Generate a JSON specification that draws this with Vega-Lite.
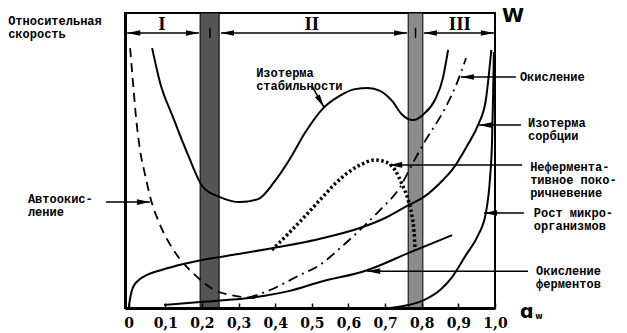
{
  "$schema": "https://vega.github.io/schema/vega-lite/v6.json",
  "width": 370,
  "height": 295,
  "autosize": {"type": "none"},
  "padding": {"left": 125, "top": 13, "right": 132, "bottom": 25},
  "background": "white",
  "config": {"view": {"stroke": "black", "strokeWidth": 2}},
  "datasets": {
    "bands": [
      {"band": 1, "x": 0.195, "x2": 0.247, "y": 0, "y2": 100},
      {"band": 2, "x": 0.763, "x2": 0.803, "y": 0, "y2": 100}
    ],
    "curves": [
      {"series": "Изотерма стабильности", "x": 0.064, "y": 88.1},
      {"series": "Изотерма стабильности", "x": 0.086, "y": 76.3},
      {"series": "Изотерма стабильности", "x": 0.121, "y": 64.7},
      {"series": "Изотерма стабильности", "x": 0.162, "y": 51.9},
      {"series": "Изотерма стабильности", "x": 0.203, "y": 41.0},
      {"series": "Изотерма стабильности", "x": 0.249, "y": 37.6},
      {"series": "Изотерма стабильности", "x": 0.304, "y": 35.9},
      {"series": "Изотерма стабильности", "x": 0.353, "y": 36.9},
      {"series": "Изотерма стабильности", "x": 0.399, "y": 43.0},
      {"series": "Изотерма стабильности", "x": 0.440, "y": 50.5},
      {"series": "Изотерма стабильности", "x": 0.481, "y": 59.3},
      {"series": "Изотерма стабильности", "x": 0.530, "y": 67.6},
      {"series": "Изотерма стабильности", "x": 0.577, "y": 72.0},
      {"series": "Изотерма стабильности", "x": 0.618, "y": 74.2},
      {"series": "Изотерма стабильности", "x": 0.653, "y": 74.6},
      {"series": "Изотерма стабильности", "x": 0.686, "y": 73.6},
      {"series": "Изотерма стабильности", "x": 0.719, "y": 70.2},
      {"series": "Изотерма стабильности", "x": 0.746, "y": 65.6},
      {"series": "Изотерма стабильности", "x": 0.776, "y": 63.7},
      {"series": "Изотерма стабильности", "x": 0.806, "y": 65.8},
      {"series": "Изотерма стабильности", "x": 0.836, "y": 70.5},
      {"series": "Изотерма стабильности", "x": 0.858, "y": 78.0},
      {"series": "Изотерма стабильности", "x": 0.872, "y": 87.5},
      {"series": "Автоокисление", "x": 0.004, "y": 88.1},
      {"series": "Автоокисление", "x": 0.012, "y": 76.3},
      {"series": "Автоокисление", "x": 0.020, "y": 64.7},
      {"series": "Автоокисление", "x": 0.031, "y": 53.6},
      {"series": "Автоокисление", "x": 0.045, "y": 45.1},
      {"series": "Автоокисление", "x": 0.061, "y": 36.6},
      {"series": "Автоокисление", "x": 0.086, "y": 28.1},
      {"series": "Автоокисление", "x": 0.126, "y": 19.0},
      {"series": "Автоокисление", "x": 0.181, "y": 11.2},
      {"series": "Автоокисление", "x": 0.230, "y": 6.4},
      {"series": "Автоокисление", "x": 0.290, "y": 4.1},
      {"series": "Автоокисление", "x": 0.345, "y": 3.4},
      {"series": "Изотерма сорбции", "x": 0.0, "y": 0.0},
      {"series": "Изотерма сорбции", "x": 0.005, "y": 4.0},
      {"series": "Изотерма сорбции", "x": 0.012, "y": 7.1},
      {"series": "Изотерма сорбции", "x": 0.031, "y": 9.8},
      {"series": "Изотерма сорбции", "x": 0.05, "y": 11.2},
      {"series": "Изотерма сорбции", "x": 0.09, "y": 12.9},
      {"series": "Изотерма сорбции", "x": 0.15, "y": 14.9},
      {"series": "Изотерма сорбции", "x": 0.214, "y": 16.6},
      {"series": "Изотерма сорбции", "x": 0.30, "y": 18.3},
      {"series": "Изотерма сорбции", "x": 0.38, "y": 20.0},
      {"series": "Изотерма сорбции", "x": 0.52, "y": 23.4},
      {"series": "Изотерма сорбции", "x": 0.631, "y": 27.1},
      {"series": "Изотерма сорбции", "x": 0.70, "y": 30.5},
      {"series": "Изотерма сорбции", "x": 0.76, "y": 34.6},
      {"series": "Изотерма сорбции", "x": 0.81, "y": 38.0},
      {"series": "Изотерма сорбции", "x": 0.858, "y": 43.4},
      {"series": "Изотерма сорбции", "x": 0.883, "y": 46.8},
      {"series": "Изотерма сорбции", "x": 0.924, "y": 55.0},
      {"series": "Изотерма сорбции", "x": 0.955, "y": 62.4},
      {"series": "Изотерма сорбции", "x": 0.975, "y": 70.5},
      {"series": "Изотерма сорбции", "x": 0.984, "y": 80.0},
      {"series": "Изотерма сорбции", "x": 0.990, "y": 87.5},
      {"series": "Рост микроорганизмов", "x": 0.713, "y": 0.0},
      {"series": "Рост микроорганизмов", "x": 0.763, "y": 1.0},
      {"series": "Рост микроорганизмов", "x": 0.806, "y": 2.7},
      {"series": "Рост микроорганизмов", "x": 0.850, "y": 6.1},
      {"series": "Рост микроорганизмов", "x": 0.883, "y": 10.5},
      {"series": "Рост микроорганизмов", "x": 0.921, "y": 18.0},
      {"series": "Рост микроорганизмов", "x": 0.954, "y": 24.7},
      {"series": "Рост микроорганизмов", "x": 0.975, "y": 32.2},
      {"series": "Рост микроорганизмов", "x": 0.986, "y": 43.4},
      {"series": "Рост микроорганизмов", "x": 0.992, "y": 56.9},
      {"series": "Рост микроорганизмов", "x": 0.9945, "y": 70.5},
      {"series": "Рост микроорганизмов", "x": 0.997, "y": 86.8},
      {"series": "Окисление", "x": 0.326, "y": 3.4},
      {"series": "Окисление", "x": 0.386, "y": 6.1},
      {"series": "Окисление", "x": 0.468, "y": 11.2},
      {"series": "Окисление", "x": 0.522, "y": 14.6},
      {"series": "Окисление", "x": 0.577, "y": 20.3},
      {"series": "Окисление", "x": 0.631, "y": 26.4},
      {"series": "Окисление", "x": 0.686, "y": 33.2},
      {"series": "Окисление", "x": 0.741, "y": 41.0},
      {"series": "Окисление", "x": 0.773, "y": 48.5},
      {"series": "Окисление", "x": 0.806, "y": 55.9},
      {"series": "Окисление", "x": 0.861, "y": 67.1},
      {"series": "Окисление", "x": 0.894, "y": 75.6},
      {"series": "Окисление", "x": 0.921, "y": 84.7},
      {"series": "Окисление ферментов", "x": 0.0965, "y": 1.0},
      {"series": "Окисление ферментов", "x": 0.195, "y": 2.0},
      {"series": "Окисление ферментов", "x": 0.348, "y": 3.7},
      {"series": "Окисление ферментов", "x": 0.440, "y": 5.8},
      {"series": "Окисление ферментов", "x": 0.522, "y": 8.8},
      {"series": "Окисление ферментов", "x": 0.653, "y": 12.9},
      {"series": "Окисление ферментов", "x": 0.763, "y": 18.6},
      {"series": "Окисление ферментов", "x": 0.883, "y": 24.7},
      {"series": "Неферментативное покоричневение", "x": 0.391, "y": 19.7},
      {"series": "Неферментативное покоричневение", "x": 0.435, "y": 25.1},
      {"series": "Неферментативное покоричневение", "x": 0.479, "y": 30.8},
      {"series": "Неферментативное покоричневение", "x": 0.522, "y": 36.6},
      {"series": "Неферментативное покоричневение", "x": 0.566, "y": 42.4},
      {"series": "Неферментативное покоричневение", "x": 0.604, "y": 46.4},
      {"series": "Неферментативное покоричневение", "x": 0.637, "y": 48.8},
      {"series": "Неферментативное покоричневение", "x": 0.672, "y": 50.2},
      {"series": "Неферментативное покоричневение", "x": 0.702, "y": 49.5},
      {"series": "Неферментативное покоричневение", "x": 0.727, "y": 46.8},
      {"series": "Неферментативное покоричневение", "x": 0.746, "y": 42.0},
      {"series": "Неферментативное покоричневение", "x": 0.763, "y": 36.6},
      {"series": "Неферментативное покоричневение", "x": 0.773, "y": 31.5},
      {"series": "Неферментативное покоричневение", "x": 0.779, "y": 25.8},
      {"series": "Неферментативное покоричневение", "x": 0.782, "y": 19.7}
    ],
    "arrows": [
      {"x": 0.533, "y": 68.1, "x2": 0.500, "y2": 75.3},
      {"x": 0.907, "y": 78.3, "x2": 1.057, "y2": 78.3},
      {"x": 0.956, "y": 62.0, "x2": 1.071, "y2": 62.0},
      {"x": 0.711, "y": 48.5, "x2": 1.074, "y2": 48.5},
      {"x": 0.970, "y": 32.2, "x2": 1.079, "y2": 32.2},
      {"x": 0.651, "y": 12.5, "x2": 1.090, "y2": 12.5},
      {"x": 0.058, "y": 35.9, "x2": -0.062, "y2": 35.9},
      {"x": -0.004, "y": 93.2, "x2": 0.192, "y2": 93.2},
      {"x": 0.252, "y": 93.2, "x2": 0.760, "y2": 93.2},
      {"x": 0.806, "y": 93.2, "x2": 0.997, "y2": 93.2},
      {"x": 0.222, "y": 91.5, "x2": 0.222, "y2": 95.0},
      {"x": 0.783, "y": 91.5, "x2": 0.783, "y2": 95.0}
    ],
    "heads": [
      {"dir": "left", "x": -0.004, "y": 93.2},
      {"dir": "left", "x": 0.252, "y": 93.2},
      {"dir": "left", "x": 0.806, "y": 93.2},
      {"dir": "left", "x": 0.907, "y": 78.3},
      {"dir": "left", "x": 0.956, "y": 62.0},
      {"dir": "left", "x": 0.711, "y": 48.5},
      {"dir": "left", "x": 0.970, "y": 32.2},
      {"dir": "left", "x": 0.651, "y": 12.5},
      {"dir": "right", "x": 0.192, "y": 93.2},
      {"dir": "right", "x": 0.760, "y": 93.2},
      {"dir": "right", "x": 0.997, "y": 93.2},
      {"dir": "right", "x": 0.058, "y": 35.9},
      {"dir": "diag", "x": 0.533, "y": 68.1}
    ],
    "notes": [
      {"text": "Относительная\nскорость", "x": -0.329, "y": 97.3},
      {"text": "Изотерма\nстабильности", "x": 0.348, "y": 79.7},
      {"text": "Окисление", "x": 1.068, "y": 78.3},
      {"text": "Изотерма\nсорбции", "x": 1.090, "y": 62.7},
      {"text": "Нефермента-\nтивное поко-\nричневение", "x": 1.096, "y": 47.8},
      {"text": "Рост микро-\nорганизмов", "x": 1.106, "y": 32.2},
      {"text": "Окисление\nферментов", "x": 1.112, "y": 12.7},
      {"text": "Автоокис-\nление", "x": -0.275, "y": 36.8}
    ],
    "regions": [
      {"text": "I", "x": 0.091, "y": 96.3},
      {"text": "II", "x": 0.500, "y": 96.3},
      {"text": "III", "x": 0.904, "y": 96.3}
    ],
    "symbols": [
      {"kind": "W", "text": "W", "x": 1.049, "y": 99.0},
      {"kind": "a", "text": "ɑ", "x": 1.0865, "y": -1.4},
      {"kind": "sub", "text": "w", "x": 1.120, "y": -3.1}
    ]
  },
  "encoding": {
    "x": {
      "field": "x", "type": "quantitative",
      "scale": {"domain": [-0.01, 1.0], "nice": false, "zero": false},
      "axis": {
        "values": [0, 0.1, 0.2, 0.3, 0.4, 0.5, 0.6, 0.7, 0.8, 0.9, 1.0],
        "labelExpr": "datum.value == 0 ? '0' : replace(format(datum.value, '.1f'), '.', ',')",
        "title": null, "grid": false, "zindex": 1,
        "domainColor": "black", "domainWidth": 3,
        "tickColor": "black", "tickSize": -5, "tickWidth": 1.5,
        "labelFont": "DejaVu Serif", "labelFontWeight": "bold", "labelFontSize": 14,
        "labelColor": "black", "labelPadding": 13, "labelFlush": false,
        "labelOverlap": false, "labelBound": false
      }
    },
    "y": {
      "field": "y", "type": "quantitative",
      "scale": {"domain": [0, 100], "nice": false, "zero": false},
      "axis": {
        "title": null, "grid": false, "ticks": false, "labels": false, "zindex": 1,
        "domainColor": "black", "domainWidth": 3
      }
    }
  },
  "layer": [
    {
      "data": {"name": "bands"},
      "transform": [{"filter": "datum.band == 1"}],
      "mark": {"type": "rect", "fill": "#555555", "stroke": "black", "strokeWidth": 1},
      "encoding": {"x2": {"field": "x2"}, "y2": {"field": "y2"}}
    },
    {
      "data": {"name": "bands"},
      "transform": [{"filter": "datum.band == 2"}],
      "mark": {"type": "rect", "fill": "#8c8c8c", "stroke": "black", "strokeWidth": 1},
      "encoding": {"x2": {"field": "x2"}, "y2": {"field": "y2"}}
    },
    {
      "data": {"name": "curves"},
      "transform": [{"filter": "datum.series == 'Изотерма стабильности' || datum.series == 'Изотерма сорбции' || datum.series == 'Рост микроорганизмов' || datum.series == 'Окисление ферментов'"}],
      "mark": {"type": "line", "color": "black", "strokeWidth": 2, "interpolate": "monotone"},
      "encoding": {"detail": {"field": "series"}}
    },
    {
      "data": {"name": "curves"},
      "transform": [{"filter": "datum.series == 'Автоокисление'"}],
      "mark": {"type": "line", "color": "black", "strokeWidth": 1.8, "strokeDash": [9, 6], "interpolate": "monotone"},
      "encoding": {}
    },
    {
      "data": {"name": "curves"},
      "transform": [{"filter": "datum.series == 'Окисление'"}],
      "mark": {"type": "line", "color": "black", "strokeWidth": 1.8, "strokeDash": [10, 5, 2, 5], "interpolate": "monotone"},
      "encoding": {}
    },
    {
      "data": {"name": "curves"},
      "transform": [{"filter": "datum.series == 'Неферментативное покоричневение'"}],
      "mark": {"type": "line", "color": "black", "strokeWidth": 3.5, "strokeDash": [2.5, 2.5], "interpolate": "monotone"},
      "encoding": {}
    },
    {
      "data": {"name": "arrows"},
      "mark": {"type": "rule", "color": "black", "strokeWidth": 1.5},
      "encoding": {"x2": {"field": "x2"}, "y2": {"field": "y2"}}
    },
    {
      "data": {"name": "heads"},
      "transform": [{"filter": "datum.dir == 'left'"}],
      "mark": {"type": "point", "shape": "M0,0L2,-0.43L2,0.43Z", "filled": true, "color": "black", "opacity": 1, "size": 170},
      "encoding": {}
    },
    {
      "data": {"name": "heads"},
      "transform": [{"filter": "datum.dir == 'right'"}],
      "mark": {"type": "point", "shape": "M0,0L-2,-0.43L-2,0.43Z", "filled": true, "color": "black", "opacity": 1, "size": 170},
      "encoding": {}
    },
    {
      "data": {"name": "heads"},
      "transform": [{"filter": "datum.dir == 'diag'"}],
      "mark": {"type": "point", "shape": "M0,0L-0.64,-1.94L-1.39,-1.51Z", "filled": true, "color": "black", "opacity": 1, "size": 170},
      "encoding": {}
    },
    {
      "data": {"name": "notes"},
      "mark": {"type": "text", "align": "left", "baseline": "middle", "font": "Liberation Mono", "fontSize": 12, "fontWeight": "bold", "lineHeight": 13, "lineBreak": "\n", "color": "black"},
      "encoding": {"text": {"field": "text"}}
    },
    {
      "data": {"name": "regions"},
      "mark": {"type": "text", "align": "center", "baseline": "middle", "font": "Liberation Serif", "fontSize": 19, "fontWeight": "bold", "color": "black"},
      "encoding": {"text": {"field": "text"}}
    },
    {
      "data": {"name": "symbols"},
      "transform": [{"filter": "datum.kind == 'W'"}],
      "mark": {"type": "text", "align": "center", "baseline": "middle", "font": "DejaVu Sans", "fontSize": 20, "fontWeight": "bold", "color": "black"},
      "encoding": {"text": {"field": "text"}}
    },
    {
      "data": {"name": "symbols"},
      "transform": [{"filter": "datum.kind == 'a'"}],
      "mark": {"type": "text", "align": "center", "baseline": "middle", "font": "DejaVu Sans", "fontSize": 19, "fontWeight": "bold", "color": "black"},
      "encoding": {"text": {"field": "text"}}
    },
    {
      "data": {"name": "symbols"},
      "transform": [{"filter": "datum.kind == 'sub'"}],
      "mark": {"type": "text", "align": "center", "baseline": "middle", "font": "DejaVu Sans", "fontSize": 8, "fontWeight": "bold", "color": "black"},
      "encoding": {"text": {"field": "text"}}
    }
  ]
}
